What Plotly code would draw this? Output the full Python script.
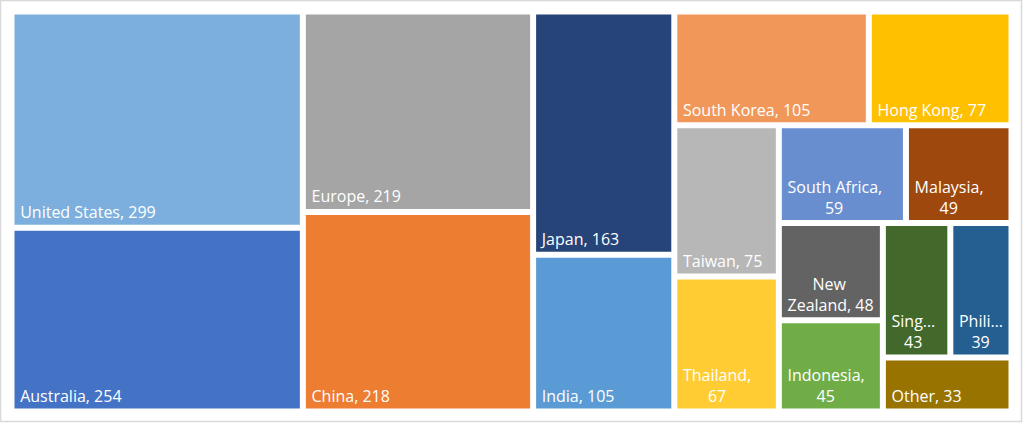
import plotly.graph_objects as go

countries = ["United States", "Australia", "Europe", "China", "Japan", "India",
             "South Korea", "Hong Kong", "Taiwan", "Thailand", "South Africa",
             "Malaysia", "New Zealand", "Indonesia", "Singapore", "Philippines", "Other"]
values = [299, 254, 219, 218, 163, 105, 105, 77, 75, 67, 59, 49, 48, 45, 43, 39, 33]
colors = ["#7CAFDD", "#4472C4", "#A5A5A5", "#ED7D31", "#264478", "#5B9BD5",
          "#F1975A", "#FFC000", "#B7B7B7", "#FFCD33", "#698ED0", "#9E480E",
          "#636363", "#70AD47", "#43682B", "#255E91", "#997300"]
# how each label is shown inside its tile (as in the original, small tiles wrap / truncate)
shown_names = ["United States", "Australia", "Europe", "China", "Japan", "India",
               "South Korea", "Hong Kong", "Taiwan", "Thailand", "South Africa",
               "Malaysia", "New<br>Zealand", "Indonesia", "Sing…", "Phili…", "Other"]
separators = [", "] * 9 + [",<br>", ",<br>", ",<br>", ", ", ",<br>", "<br>", "<br>", ", "]

FONT_SIZE = 16
# rough Open Sans advance widths (em) used to centre wrapped lines like Excel does
_W = {" ": .26, "\u00a0": .26, ",": .25, "…": .92, "I": .28, "M": .9, "N": .74, "P": .6,
      "S": .55, "T": .55, "Z": .52, "A": .63, "a": .56, "c": .48, "d": .61, "e": .56,
      "f": .34, "g": .55, "h": .61, "i": .26, "l": .26, "n": .61, "o": .6, "r": .41,
      "s": .48, "t": .35, "u": .61, "w": .8, "y": .5}

def text_width(s):
    return sum(_W.get(ch, .572) for ch in s) * FONT_SIZE

def centre_lines(text):
    lines = text.split("<br>")
    widest = max(text_width(l) for l in lines)
    out = []
    for l in lines:
        n_sp = int(round((widest - text_width(l)) / 2 / text_width("\u00a0")))
        out.append("\u00a0" + "\u00a0" * n_sp + l)
    return "<br>".join(out)

# Build a nested hierarchy: consecutive pairs form a strip, each strip sits next
# to the remainder of the chart (this reproduces the Excel treemap arrangement).
ids, labels, parents, vals, texts, cols, tmpls = [], [], [], [], [], [], []

def add(node_id, label, parent, value, text, color, tmpl):
    ids.append(node_id); labels.append(label); parents.append(parent)
    vals.append(value); texts.append(text); cols.append(color); tmpls.append(tmpl)

n = len(countries)
pairs = [list(range(i, min(i + 2, n))) for i in range(0, n, 2)]
add("L0", "", "", 0, "", "#FFFFFF", "")
for k, pair in enumerate(pairs):
    level = f"L{k}"
    if len(pair) == 1:
        holder = level
    else:
        holder = f"P{k}"
        add(holder, "", level, 0, "", "#FFFFFF", "")
    for i in pair:
        shown = centre_lines(f"{shown_names[i]}{separators[i]}{values[i]}")
        add(countries[i], countries[i], holder, values[i], shown, colors[i], "%{text}")
    if k < len(pairs) - 1:
        add(f"L{k+1}", "", level, 0, "", "#FFFFFF", "")

fig = go.Figure(go.Treemap(
    ids=ids, labels=labels, parents=parents, values=vals,
    branchvalues="remainder", sort=False,
    text=texts, texttemplate=tmpls,
    textposition="bottom left",
    textfont=dict(family="Segoe UI, Open Sans, sans-serif", size=FONT_SIZE, color="white"),
    marker=dict(colors=cols, line=dict(color="white", width=3),
                pad=dict(t=0, l=0, r=0, b=0)),
    tiling=dict(packing="squarify", squarifyratio=1.13),
    pathbar=dict(visible=False),
    hoverinfo="label+value",
))

fig.update_layout(
    width=1023, height=423,
    margin=dict(l=13, r=13, t=13, b=13),
    paper_bgcolor="white",
    uniformtext=dict(minsize=FONT_SIZE, mode="show"),
    shapes=[dict(type="rect", xref="paper", yref="paper",
                 x0=-12.5 / 997, x1=1 + 11.5 / 997, y0=-11.5 / 397, y1=1 + 12.5 / 397,
                 line=dict(color="#D9D9D9", width=1.5), fillcolor="rgba(0,0,0,0)")],
)

fig.write_html("out.html", config={"displayModeBar": False},
               post_script="document.body.style.margin='0';")
